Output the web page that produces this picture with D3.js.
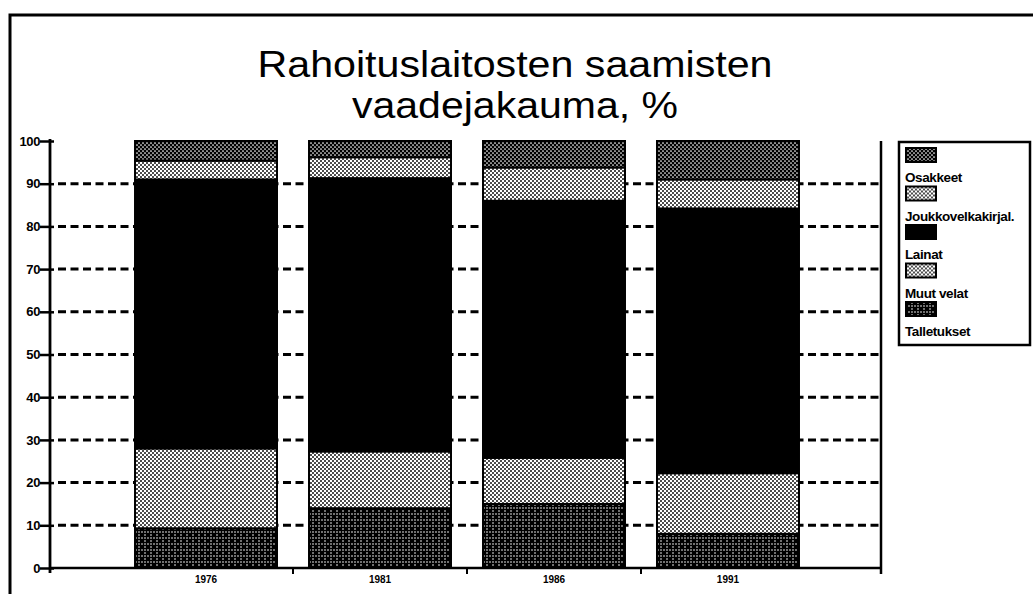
<!DOCTYPE html>
<html>
<head>
<meta charset="utf-8">
<script src="https://cdnjs.cloudflare.com/ajax/libs/d3/7.8.5/d3.min.js"></script>
<style>
  body { margin: 0; background: #fff; }
  svg { display: block; }
  text { font-family: "Liberation Sans", Arial, sans-serif; }
</style>
</head>
<body>
<svg id="chart" width="1033" height="594"></svg>
<script>
// data (percent, bottom to top)
var years = ["1976", "1981", "1986", "1991"];
var series = ["Talletukset", "Muut velat", "Lainat", "Joukkovelkakirjal.", "Osakkeet"];
var talletukset = [9.3, 14, 15, 8];
var muutVelat = [18.7, 13.3, 10.8, 14.2];
var lainat = [63, 64, 60.2, 62];
var joukko = [4.4, 4.9, 7.8, 6.8];
var osakkeet = [4.6, 3.8, 6.2, 9];
var yTicks = [0, 10, 20, 30, 40, 50, 60, 70, 80, 90, 100];
var legendOrder = ["Osakkeet", "Joukkovelkakirjal.", "Lainat", "Muut velat", "Talletukset"];

var svg = d3.select("#chart");
var defs = svg.append("defs");

// stipple fills
function dotPattern(id, size, bg, fg, dots, r) {
	var p = defs.append("pattern")
		.attr("id", id)
		.attr("patternUnits", "userSpaceOnUse")
		.attr("width", size)
		.attr("height", size);
	p.append("rect").attr("width", size).attr("height", size).attr("fill", bg);
	dots.forEach(function(d) {
		p.append("circle").attr("cx", d[0]).attr("cy", d[1]).attr("r", r).attr("fill", fg);
	});
}
dotPattern("light", 4, "#fff", "#000", [[1, 1], [3, 3]], 0.95);
dotPattern("darkx", 4, "#000", "#fff", [[1, 1], [3, 3]], 0.85);
dotPattern("darks", 6, "#000", "#fff", [[1, 1], [4, 4], [1, 4]], 0.8);

var fills = {
	"Talletukset": "url(#darks)",
	"Muut velat": "url(#light)",
	"Lainat": "#000",
	"Joukkovelkakirjal.": "url(#light)",
	"Osakkeet": "url(#darkx)"
};

var rows = years.map(function(yr, i) {
	return {
		year: yr,
		"Talletukset": talletukset[i],
		"Muut velat": muutVelat[i],
		"Lainat": lainat[i],
		"Joukkovelkakirjal.": joukko[i],
		"Osakkeet": osakkeet[i]
	};
});
var stack = d3.stack().keys(series)(rows);

// outer frame
svg.append("path")
	.attr("d", "M10,1040 L10,15 L1040,15")
	.attr("fill", "none")
	.attr("stroke", "#000")
	.attr("stroke-width", 3);

// title
var title = svg.append("text")
	.attr("text-anchor", "middle")
	.attr("font-size", 37)
	.attr("fill", "#000");
title.append("tspan").attr("x", 515).attr("y", 77)
	.attr("textLength", 515).attr("lengthAdjust", "spacingAndGlyphs")
	.text("Rahoituslaitosten saamisten");
title.append("tspan").attr("x", 515).attr("y", 118)
	.attr("textLength", 326).attr("lengthAdjust", "spacingAndGlyphs")
	.text("vaadejakauma, %");

var pL = 50, pR = 881, pT = 141, pB = 568;

var x = d3.scaleBand()
	.domain(years)
	.range([pL, pR])
	.paddingInner(0.184)
	.paddingOuter(0.48)
	.align(0.509);

var y = d3.scaleLinear()
	.domain([0, 100])
	.range([pB, pT]);

// dashed grid
svg.append("g")
	.selectAll("line")
	.data(yTicks.filter(function(t) { return t > 0 && t < 100; }))
	.enter().append("line")
	.attr("x1", pL + 8)
	.attr("x2", pR - 2)
	.attr("y1", function(d) { return y(d); })
	.attr("y2", function(d) { return y(d); })
	.attr("stroke", "#000")
	.attr("stroke-width", 3)
	.attr("stroke-dasharray", "8,4.5");

// bars
svg.append("g")
	.selectAll("g")
	.data(stack)
	.enter().append("g")
	.attr("fill", function(d) { return fills[d.key]; })
	.selectAll("rect")
	.data(function(d) { return d; })
	.enter().append("rect")
	.attr("x", function(d) { return x(d.data.year); })
	.attr("width", x.bandwidth())
	.attr("y", function(d) { return y(d[1]); })
	.attr("height", function(d) { return y(d[0]) - y(d[1]); })
	.attr("stroke", "#000")
	.attr("stroke-width", 2);

// y axis
var yAxis = svg.append("g")
	.attr("transform", "translate(" + pL + ",0)")
	.call(d3.axisLeft(y).tickValues(yTicks).tickSize(10).tickSizeOuter(0));
yAxis.select(".domain").attr("stroke-width", 2.8).attr("d", "M0," + (pT - 2) + "V" + (pB + 5));
yAxis.selectAll(".tick line").attr("x2", -10).attr("x1", 4).attr("stroke-width", 2.5);
yAxis.selectAll(".tick text")
	.attr("x", -10)
	.attr("font-size", 13)
	.attr("font-weight", "bold")
	.attr("letter-spacing", -0.4)
	.attr("fill", "#000");

// x axis
var step = x.step();
var xAxis = svg.append("g")
	.attr("transform", "translate(0," + pB + ")");
xAxis.append("line")
	.attr("x1", pL).attr("x2", pR)
	.attr("stroke", "#000").attr("stroke-width", 2.5);
xAxis.selectAll(".sep")
	.data(years.slice(1))
	.enter().append("line")
	.attr("class", "sep")
	.attr("x1", function(d) { return x(d) - (step - x.bandwidth()) / 2; })
	.attr("x2", function(d) { return x(d) - (step - x.bandwidth()) / 2; })
	.attr("y1", 0).attr("y2", 6)
	.attr("stroke", "#000").attr("stroke-width", 2);
xAxis.selectAll(".lbl")
	.data(years)
	.enter().append("text")
	.attr("class", "lbl")
	.attr("x", function(d) { return x(d) + x.bandwidth() / 2; })
	.attr("y", 15)
	.attr("text-anchor", "middle")
	.attr("font-size", 10)
	.attr("font-weight", "bold")
	.text(function(d) { return d; });

// right edge of plot
svg.append("line")
	.attr("x1", pR).attr("x2", pR)
	.attr("y1", pT).attr("y2", pB + 6)
	.attr("stroke", "#000").attr("stroke-width", 2.5);

// legend
var lg = svg.append("g").attr("transform", "translate(899,142)");
lg.append("rect")
	.attr("width", 131).attr("height", 203)
	.attr("fill", "#fff").attr("stroke", "#000").attr("stroke-width", 2.5);
var item = lg.selectAll(".item")
	.data(legendOrder)
	.enter().append("g")
	.attr("class", "item")
	.attr("transform", function(d, i) { return "translate(0," + (i * 38.5) + ")"; });
item.append("rect")
	.attr("x", 7).attr("y", 6)
	.attr("width", 30).attr("height", 14)
	.attr("fill", function(d) { return fills[d]; })
	.attr("stroke", "#000").attr("stroke-width", 2);
item.append("text")
	.attr("x", 6).attr("y", 40)
	.attr("font-size", 13.5)
	.attr("font-weight", "bold")
	.attr("letter-spacing", -0.4)
	.text(function(d) { return d; });
</script>
</body>
</html>
